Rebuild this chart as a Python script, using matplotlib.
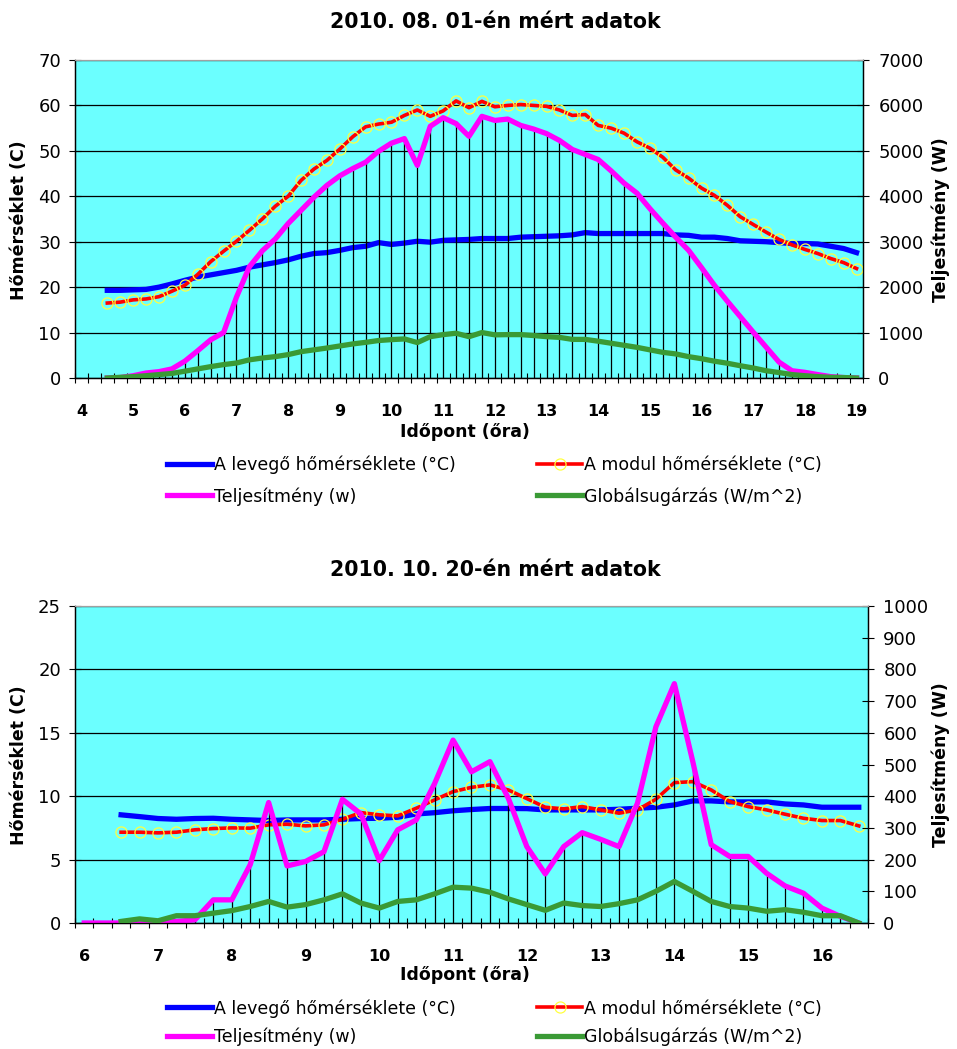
import matplotlib
matplotlib.use('Agg')
import matplotlib.pyplot as plt
import numpy as np

plt.rcParams['font.family'] = ['DejaVu Sans']

W, H = 957, 1049

# --- 2010.08.01 (quarter-hour readings, 4:30 - 19:00) ---
time_aug = np.arange(4.5, 19.01, 0.25)
air_aug = [19.3, 19.3, 19.4, 19.5, 20.0, 20.7, 21.5, 22.2, 22.7, 23.2,
           23.7, 24.4, 24.9, 25.4, 26.0, 26.8, 27.4, 27.6, 28.1,
           28.7, 29.0, 29.8, 29.4, 29.7, 30.1, 29.9, 30.3, 30.4,
           30.5, 30.7, 30.7, 30.7, 31.0, 31.1, 31.2, 31.3, 31.5,
           32.0, 31.8, 31.8, 31.8, 31.8, 31.8, 31.8, 31.5, 31.4,
           31.0, 31.0, 30.7, 30.2, 30.1, 30.0, 29.8, 29.6, 29.6,
           29.5, 29.0, 28.5, 27.6]
module_aug = [16.5, 16.7, 17.2, 17.4, 17.9, 19.1, 20.4, 22.8, 25.6, 27.9,
              30.1, 32.5, 35.0, 37.8, 40.0, 43.5, 46.0, 47.9, 50.4,
              53.1, 55.3, 55.9, 56.3, 57.8, 59.0, 57.6, 58.8, 61.0,
              59.5, 60.9, 59.7, 60.0, 60.2, 60.0, 59.8, 59.0, 57.8,
              58.0, 55.6, 55.0, 53.9, 52.0, 50.6, 48.6, 45.8, 44.0,
              41.8, 40.2, 38.0, 35.5, 33.8, 32.1, 30.5, 29.3, 28.3,
              27.4, 26.3, 25.4, 24.1]
power_aug = [0, 10, 50, 110, 140, 200, 370, 600, 840, 1000,
             1780, 2450, 2800, 3060, 3400, 3690, 3980, 4240, 4450,
             4610, 4750, 4990, 5170, 5270, 4680, 5540, 5730, 5600,
             5320, 5760, 5670, 5700, 5560, 5480, 5380, 5230, 5030,
             4920, 4810, 4560, 4290, 4070, 3730, 3410, 3100, 2810,
             2430, 2040, 1690, 1350, 1010, 680, 350, 160, 125,
             75, 30, 10, 0]
glob_aug = [0, 15, 30, 50, 75, 100, 150, 200, 250, 295,
            330, 400, 440, 470, 515, 580, 620, 660, 705,
            750, 785, 825, 845, 860, 780, 910, 955, 985,
            910, 1000, 950, 955, 955, 935, 910, 895, 850,
            850, 810, 765, 720, 675, 620, 565, 530, 470,
            425, 370, 325, 270, 220, 160, 120, 75, 50,
            30, 15, 10, 0]

# --- 2010.10.20 (6:00 - 16:30, temperatures / radiation from 6:30) ---
time_oct_pow = np.arange(6.0, 16.51, 0.25)
time_oct = np.arange(6.5, 16.51, 0.25)
air_oct = [8.53, 8.39, 8.24, 8.18, 8.24, 8.26, 8.18, 8.13, 8.08,
           8.13, 8.13, 8.13, 8.18, 8.24, 8.26, 8.34, 8.6, 8.7, 8.85,
           8.95, 9.03, 9.03, 9.02, 8.92, 8.92, 8.92, 8.92, 8.97, 9.05,
           9.13, 9.31, 9.63, 9.63, 9.55, 9.55, 9.55, 9.39, 9.31, 9.13,
           9.13, 9.13]
module_oct = [7.16, 7.16, 7.11, 7.16, 7.35, 7.45, 7.5, 7.48, 7.74,
              7.79, 7.66, 7.74, 8.18, 8.71, 8.53, 8.45, 9.05, 9.71, 10.36,
              10.7, 10.89, 10.49, 9.81, 9.13, 9.0, 9.18, 8.92, 8.66, 8.92,
              9.76, 11.07, 11.15, 10.49, 9.58, 9.18, 8.92, 8.58, 8.26, 8.08,
              8.08, 7.66]
power_oct = [0, 0, 0, 0, 0, 5, 10, 73, 73, 184,
             380, 180, 194, 225, 390, 344, 197, 294, 325, 440,
             577, 477, 509, 393, 241, 155, 241, 285, 264, 241,
             378, 619, 755, 509, 247, 210, 210, 157, 117, 94,
             47, 21, 0]
glob_oct = [5, 13, 7, 23, 23, 31, 39, 52, 68,
            50, 58, 73, 92, 63, 47, 68, 73, 92, 113,
            110, 97, 76, 58, 40, 63, 55, 52, 61, 73,
            100, 131, 100, 68, 52, 47, 37, 42, 34, 23,
            23, 0]

labels = ['A levegő hőmérséklete (°C)', 'A modul hőmérséklete (°C)',
          'Teljesítmény (w)', 'Globálsugárzás (W/m^2)']

C_AIR, C_MOD, C_POW, C_GLOB = '#0000ff', '#ff0000', '#ff00ff', '#3a9a35'
BG = '#6bffff'


def rect(l, t, r, b):
    return [l / W, 1 - b / H, (r - l) / W, (b - t) / H]


def draw_panel(box, t, air, module, t_pow, power, glob, t0, t1,
               tmax, tstep, pmax, pstep, title, title_y, xlab_y, ylab_y,
               leg_y, leg_space):
    ax = fig.add_axes(rect(*box))
    ax.set_facecolor(BG)
    ax.set_axisbelow(True)
    ax.yaxis.grid(True, color='black', lw=0.9)

    h_air, = ax.plot(t, air, color=C_AIR, lw=3.8, zorder=3)
    h_mod, = ax.plot(t, module, color=C_MOD, lw=2.6, marker='o', ms=8,
                     mfc='none', mec='#ffff40', mew=0.9, zorder=4)

    ax2 = ax.twinx()
    ax2.vlines(t_pow, 0, power, color='black', lw=0.9, zorder=1)
    h_pow, = ax2.plot(t_pow, power, color=C_POW, lw=3.8, zorder=2)
    h_glob, = ax2.plot(t, glob, color=C_GLOB, lw=3.8, zorder=3)

    ax.set_xlim(t0 - 0.125, t1 + 0.125)
    ax.set_ylim(0, tmax)
    ax2.set_ylim(0, pmax)
    ax.set_yticks(np.arange(0, tmax + 0.1, tstep))
    ax2.set_yticks(np.arange(0, pmax + 1, pstep))

    ax.set_xticks(np.arange(t0 - 0.125, t1 + 0.2, 0.25))
    ax.set_xticklabels([])
    hours = np.arange(int(t0), int(t1) + 1)
    ax.set_xticks(hours, minor=True)
    ax.set_xticklabels([str(h) for h in hours], minor=True)
    ax.tick_params(axis='x', which='major', direction='inout', length=7, width=0.8)
    ax.tick_params(axis='x', which='minor', length=0, pad=19, labelsize=11.5)
    for lb in ax.get_xticklabels(minor=True):
        lb.set_fontweight('bold')
    ax.tick_params(axis='y', direction='inout', length=8, width=0.8, pad=6, labelsize=13)
    ax2.tick_params(axis='y', direction='inout', length=8, width=0.8, pad=7, labelsize=13)

    for a in (ax, ax2):
        a.spines['top'].set_color('#a0a0a0')
        for s in ('left', 'right', 'bottom'):
            a.spines[s].set_linewidth(0.9)

    fig.text(0.518, 1 - title_y / H, title, ha='center', va='center',
             fontsize=14.8, fontweight='bold')
    fig.text(0.486, 1 - xlab_y / H, 'Időpont (őra)', ha='center', va='center',
             fontsize=12.5, fontweight='bold')
    fig.text(19 / W, 1 - ylab_y / H, 'Hőmérséklet (C)', ha='center', va='center',
             rotation=90, fontsize=12.5, fontweight='bold')
    fig.text(941 / W, 1 - ylab_y / H, 'Teljesítmény (W)', ha='center', va='center',
             rotation=90, fontsize=12.5, fontweight='bold')

    fig.legend([h_air, h_pow, h_mod, h_glob],
               [labels[0], labels[2], labels[1], labels[3]],
               ncol=2, loc='upper left', bbox_to_anchor=(167 / W, 1 - leg_y / H),
               frameon=False, fontsize=12.5, handlelength=2.6, handletextpad=0.1,
               columnspacing=4.7, labelspacing=leg_space, borderpad=0, borderaxespad=0)


fig = plt.figure(figsize=(W / 100, H / 100), dpi=100)

draw_panel((75, 60, 863, 378), time_aug, air_aug, module_aug, time_aug, power_aug, glob_aug,
           4, 19, 70, 10, 7000, 1000, '2010. 08. 01-én mért adatok', 22, 432, 220, 456, 0.72)
draw_panel((75, 606, 868, 923), time_oct, air_oct, module_oct, time_oct_pow, power_oct, glob_oct,
           6, 16.5, 25, 5, 1000, 100, '2010. 10. 20-én mért adatok', 570, 975, 765, 999, 0.6)

fig.savefig('out.png', dpi=100, facecolor='white')
